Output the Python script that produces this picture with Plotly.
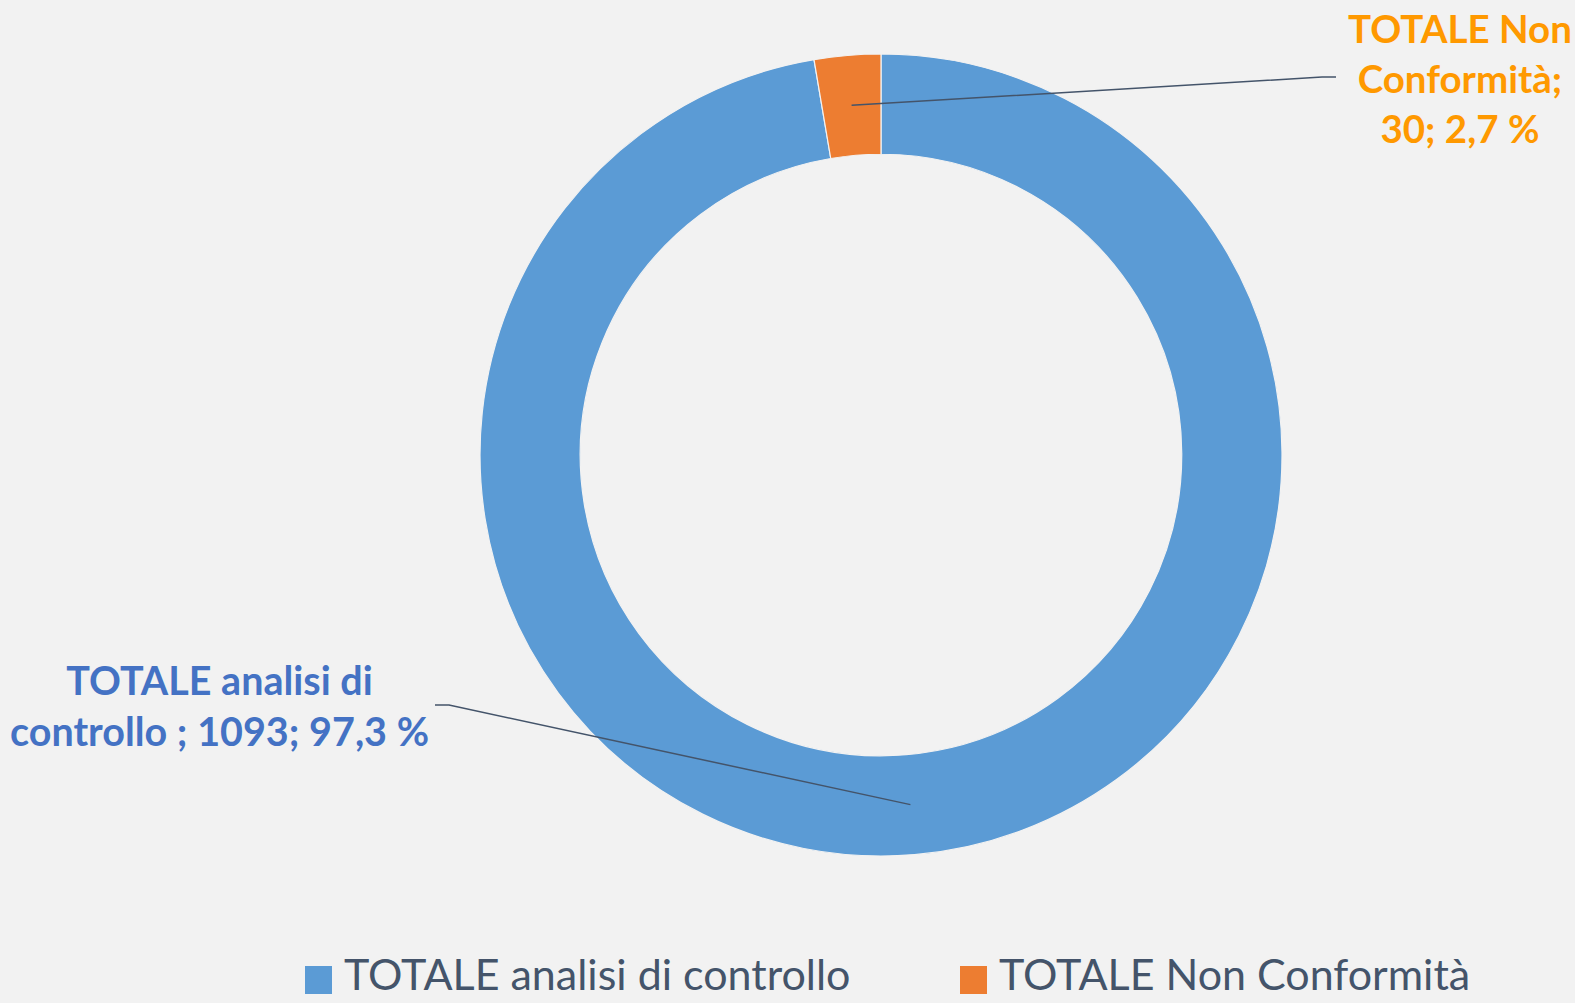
import math
import plotly.graph_objects as go

# ---- data ----
categories = ["TOTALE analisi di controllo ", "TOTALE Non Conformità"]
legend_names = ["TOTALE analisi di controllo", "TOTALE Non Conformità"]
values = [1093, 30]
percent_labels = ["97,3 %", "2,7 %"]
slice_colors = ["#5B9BD5", "#ED7D31"]
label_colors = ["#4472C4", "#FF9900"]

W, H = 1575, 1003
BG = "#F2F2F2"

# geometry (pixels)
cx, cy, r_out = 881, 455, 401
hole = 0.75

def px(x):
    return x / W

def py(y):
    return 1 - y / H

fig = go.Figure()
fig.add_trace(go.Pie(
    labels=categories,
    values=values,
    hole=hole,
    sort=False,
    direction="clockwise",
    rotation=0,
    marker=dict(colors=slice_colors, line=dict(color="#F2F2F2", width=1.2)),
    textinfo="none",
    hoverinfo="label+value+percent",
    showlegend=False,
    domain=dict(x=[px(cx - r_out), px(cx + r_out)], y=[py(cy + r_out), py(cy - r_out)]),
))

# data labels with leader lines
total = sum(values)
label_texts = [
    "TOTALE analisi di<br>controllo ; %d; %s" % (values[0], percent_labels[0]),
    "TOTALE Non<br>Conformità;<br>%d; %s" % (values[1], percent_labels[1]),
]
label_pos = [(219, 705), (1460, 78)]     # text centre (pixels)
label_sizes = [39.5, 38.5]
elbow = [(449, 705, 435), (1322, 77, 1336)]
annotations = []
shapes = []
cum = 0
r_mid = r_out * (1 + hole) / 2
for i, v in enumerate(values):
    mid = (cum + v / 2) / total * 2 * math.pi
    cum += v
    sx = cx + r_mid * math.sin(mid)
    sy = cy - r_mid * math.cos(mid)
    ex, ey, ex2 = elbow[i]
    shapes.append(dict(
        type="path", xref="paper", yref="paper",
        path="M %f,%f L %f,%f L %f,%f" % (px(sx), py(sy), px(ex), py(ey), px(ex2), py(ey)),
        line=dict(color="#44546A", width=1.5),
    ))
    lx, ly = label_pos[i]
    annotations.append(dict(
        x=px(lx), y=py(ly), xref="paper", yref="paper",
        text="<b>%s</b>" % label_texts[i], showarrow=False,
        xanchor="center", yanchor="middle", align="center",
        font=dict(family="Lato", size=label_sizes[i], color=label_colors[i]),
    ))

# custom legend
leg_sq = [(305, 966), (960, 966)]
leg_text_x = [342, 997]
for i, name in enumerate(legend_names):
    sx, sy = leg_sq[i]
    shapes.append(dict(
        type="rect", xref="paper", yref="paper",
        x0=px(sx), x1=px(sx + 27), y0=py(sy + 28), y1=py(sy),
        fillcolor=slice_colors[i], line=dict(width=0),
    ))
    annotations.append(dict(
        x=px(leg_text_x[i]), y=py(973), xref="paper", yref="paper",
        text=name, showarrow=False, xanchor="left", yanchor="middle",
        font=dict(family="Lato", size=43, color="#44546A"),
    ))

fig.update_layout(
    width=W, height=H,
    margin=dict(l=0, r=0, t=0, b=0),
    paper_bgcolor=BG, plot_bgcolor=BG,
    annotations=annotations,
    shapes=shapes,
    showlegend=False,
)

fig.write_html("out.html")
